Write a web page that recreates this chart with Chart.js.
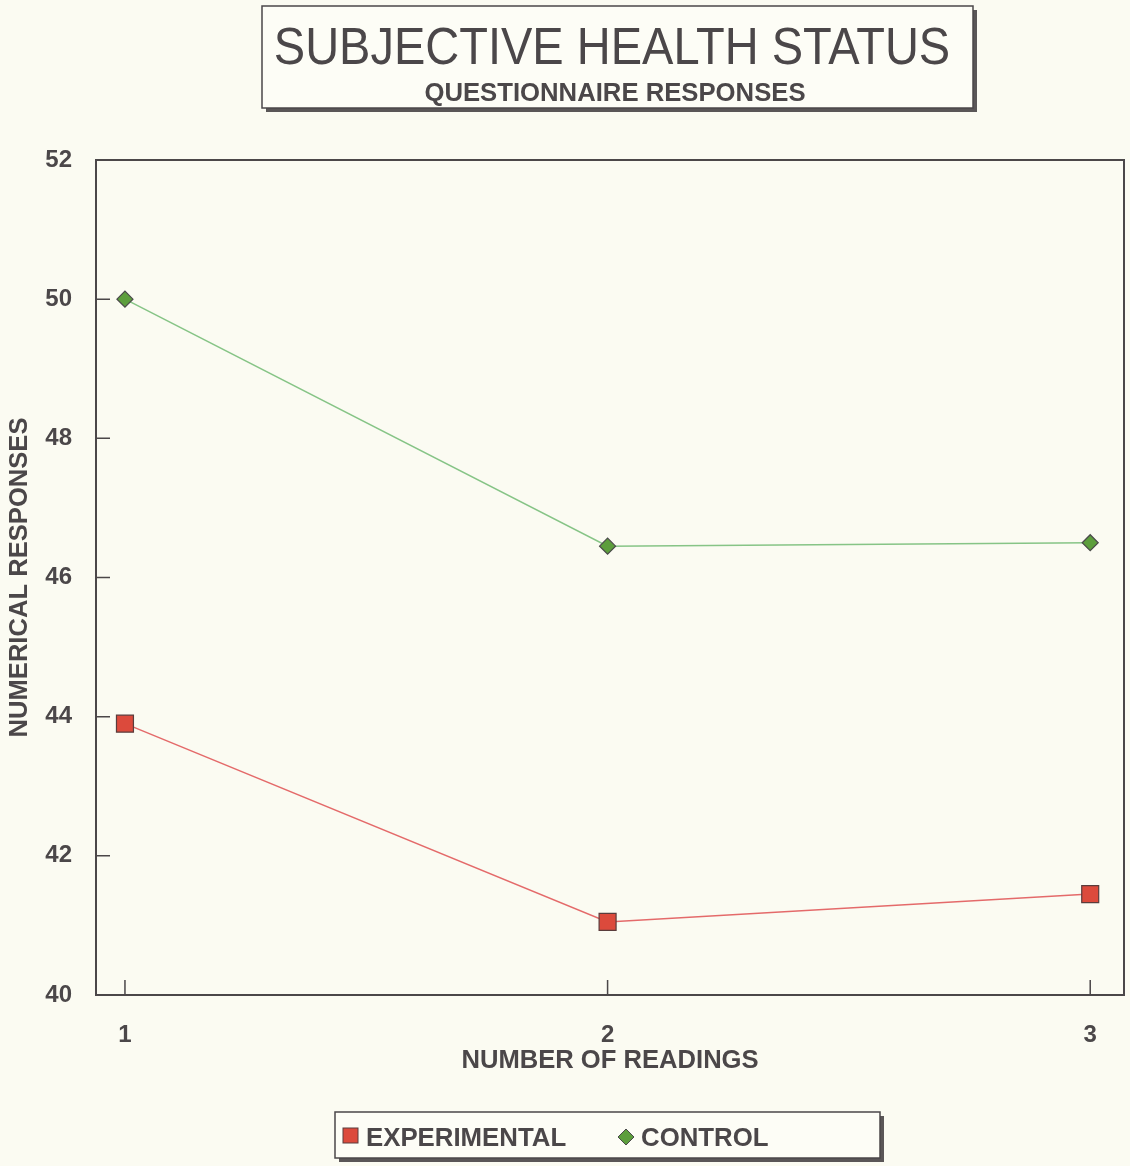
<!DOCTYPE html>
<html>
<head>
<meta charset="utf-8">
<script src="https://cdn.jsdelivr.net/npm/chart.js@4"></script>
<style>
  html, body { margin: 0; padding: 0; background: #fbfbf2; overflow: hidden; }
  #wrap { width: 1130px; height: 1166px; }
  canvas { display: block; }
</style>
</head>
<body>
<div id="wrap"><canvas id="chart"></canvas></div>
<script>
const title = 'SUBJECTIVE HEALTH STATUS';
const subtitle = 'QUESTIONNAIRE RESPONSES';
const readings = [1, 2, 3];
const experimental = [43.9, 41.05, 41.45];
const control = [50.0, 46.45, 46.5];
const yTicks = [40, 42, 44, 46, 48, 50, 52];

const ink = '#4b4749';
const font = '"Liberation Sans", Arial, sans-serif';

// title box, legend box, frame and inward tick marks
const decor = {
  id: 'decor',
  beforeDraw(chart) {
    const c = chart.ctx;
    c.save();
    c.fillStyle = '#fbfbf2';
    c.fillRect(0, 0, chart.width, chart.height);
    c.restore();
  },
  afterDraw(chart) {
    const c = chart.ctx;
    const a = chart.chartArea;
    const xs = chart.scales.x, ys = chart.scales.y;
    c.save();

    // plot frame
    c.strokeStyle = ink;
    c.lineWidth = 2;
    c.strokeRect(a.left, a.top, a.right - a.left, a.bottom - a.top);

    // inward ticks
    c.lineWidth = 1.5;
    c.beginPath();
    yTicks.slice(1, -1).forEach(v => {
      const y = ys.getPixelForValue(v);
      c.moveTo(a.left, y); c.lineTo(a.left + 14, y);
    });
    readings.forEach(v => {
      const x = xs.getPixelForValue(v);
      c.moveTo(x, a.bottom); c.lineTo(x, a.bottom - 15);
    });
    c.stroke();

    // title box
    box(c, 262, 6, 711, 102);
    c.fillStyle = ink;
    c.textAlign = 'center';
    c.textBaseline = 'alphabetic';
    c.save();
    c.translate(612, 64);
    c.scale(1, 1.12);
    c.font = '47px ' + font;
    c.fillText(title, 0, 0);
    c.restore();
    c.font = 'bold 25.7px ' + font;
    c.fillText(subtitle, 615, 101);

    // legend box
    box(c, 335, 1112, 545, 46);
    c.font = 'bold 25.8px ' + font;
    c.textAlign = 'left';
    const ds = chart.data.datasets;
    // experimental: square
    c.fillStyle = ds[0].pointBackgroundColor;
    c.strokeStyle = ds[0].pointBorderColor;
    c.lineWidth = 1;
    c.fillRect(343, 1128, 15, 15);
    c.strokeRect(343, 1128, 15, 15);
    c.fillStyle = ink;
    c.fillText(ds[0].label, 366, 1146);
    // control: diamond
    c.beginPath();
    c.moveTo(626, 1129); c.lineTo(634, 1137); c.lineTo(626, 1145); c.lineTo(618, 1137);
    c.closePath();
    c.fillStyle = ds[1].pointBackgroundColor;
    c.fill();
    c.strokeStyle = ds[1].pointBorderColor;
    c.stroke();
    c.fillStyle = ink;
    c.fillText(ds[1].label, 641, 1146);

    c.restore();
  }
};

function box(c, x, y, w, h) {
  c.fillStyle = '#5a5657';
  c.fillRect(x + 4, y + 4, w, h);
  c.fillStyle = '#fdfdf6';
  c.fillRect(x, y, w, h);
  c.strokeStyle = ink;
  c.lineWidth = 1.5;
  c.strokeRect(x, y, w, h);
}

const ctx = document.getElementById('chart').getContext('2d');
new Chart(ctx, {
  type: 'line',
  data: {
    datasets: [
      {
        label: 'EXPERIMENTAL',
        data: readings.map((r, i) => ({ x: r, y: experimental[i] })),
        borderColor: '#e46a6a',
        borderWidth: 1.5,
        pointStyle: 'rect',
        pointRadius: 12,
        pointBackgroundColor: '#dc4a3c',
        pointBorderColor: '#5a3c3c',
        pointBorderWidth: 1.2,
        fill: false
      },
      {
        label: 'CONTROL',
        data: readings.map((r, i) => ({ x: r, y: control[i] })),
        borderColor: '#86c486',
        borderWidth: 1.5,
        pointStyle: 'rectRot',
        pointRadius: 8,
        pointBackgroundColor: '#5c9e3c',
        pointBorderColor: '#4a4a4a',
        pointBorderWidth: 1.2,
        fill: false
      }
    ]
  },
  options: {
    responsive: true,
    maintainAspectRatio: false,
    animation: false,
    layout: { autoPadding: false, padding: { left: 0, right: 6, top: 160, bottom: 80 } },
    plugins: {
      legend: { display: false },
      tooltip: { enabled: false }
    },
    scales: {
      x: {
        type: 'linear',
        min: 0.94,
        max: 3.07,
        grid: { display: false },
        border: { display: false },
        afterBuildTicks: s => { s.ticks = readings.map(v => ({ value: v })); },
        afterFit: s => { s.height = 91; s.paddingLeft = 0; s.paddingRight = 0; },
        ticks: { color: ink, font: { family: font, size: 24, weight: 'bold' }, padding: 18 },
        title: {
          display: true,
          text: 'NUMBER OF READINGS',
          color: ink,
          font: { family: font, size: 25.6, weight: 'bold' },
          padding: { top: 0, bottom: 10 }
        }
      },
      y: {
        min: 40,
        max: 52,
        grid: { display: false },
        border: { display: false },
        afterBuildTicks: s => { s.ticks = yTicks.map(v => ({ value: v })); },
        afterFit: s => { s.width = 96; },
        ticks: { color: ink, font: { family: font, size: 24, weight: 'bold' }, padding: 16 },
        title: {
          display: true,
          text: 'NUMERICAL RESPONSES',
          color: ink,
          font: { family: font, size: 25.6, weight: 'bold' },
          padding: { top: 5, bottom: 0 }
        }
      }
    }
  },
  plugins: [decor]
});
</script>
</body>
</html>
